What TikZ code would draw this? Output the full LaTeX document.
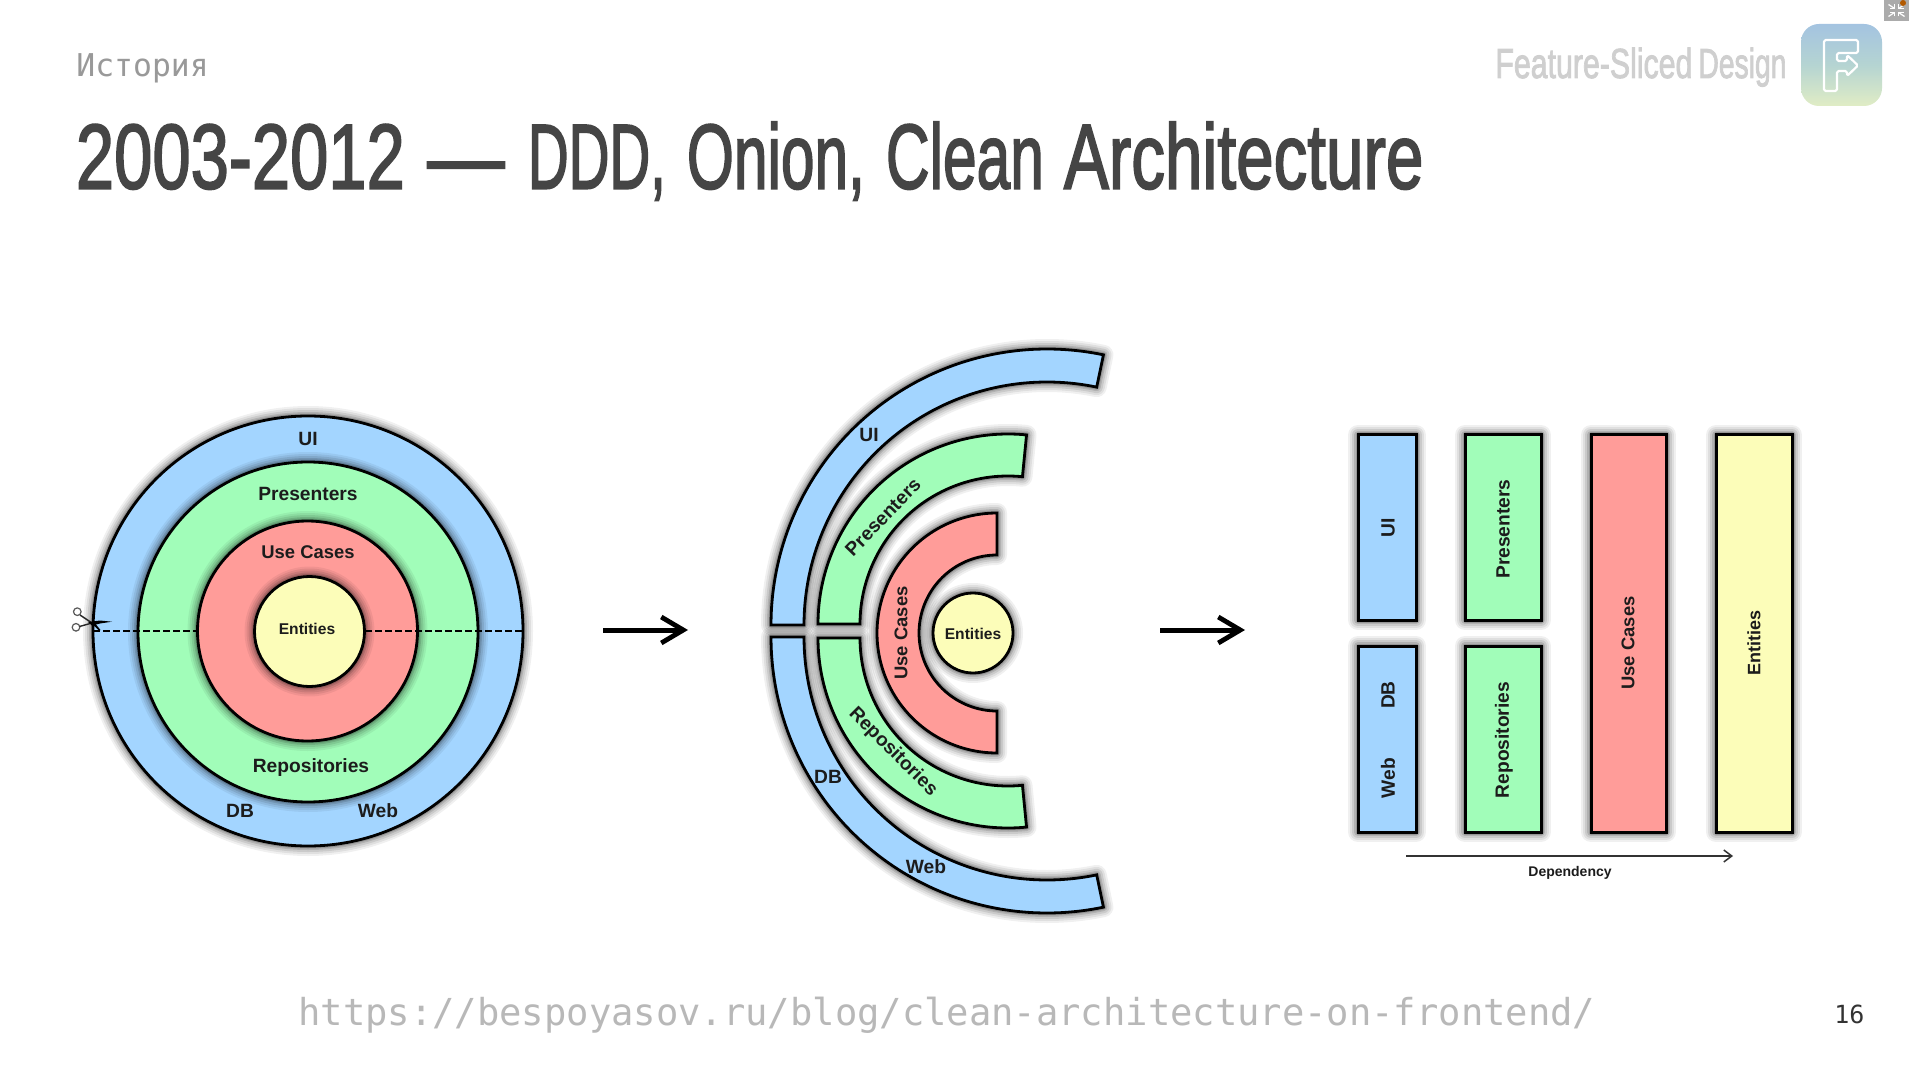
\documentclass[tikz,border=0pt]{standalone}
\usepackage{fontspec}
\usepackage{graphicx}
\usetikzlibrary{arrows.meta}
\setmainfont{Liberation Sans}
\newfontfamily\monof{DejaVu Sans Mono}
\newfontfamily\titlef[FakeBold=2.2]{Liberation Sans}
\definecolor{cblue}{HTML}{A3D5FF}
\definecolor{cgreen}{HTML}{A1FDB9}
\definecolor{cred}{HTML}{FF9C99}
\definecolor{cyel}{HTML}{FCFDB9}
\definecolor{ctext}{HTML}{1C1C1C}
\definecolor{logoA}{HTML}{9BBBE8}
\definecolor{logoB}{HTML}{B5D4D2}
\definecolor{logoC}{HTML}{F6F9BE}
\tikzset{
  lbl/.style={font=\bfseries\fontsize{9.6}{12}\selectfont,text=ctext,inner sep=0pt,outer sep=0pt},
  lblusecases/.style={lbl,font=\bfseries\fontsize{9.2}{12}\selectfont},
  lblsmall/.style={lbl,font=\bfseries\fontsize{7.8}{10}\selectfont},
  ringc/.style={circle,draw=black,line width=1.4pt,inner sep=0pt,outer sep=0pt},
  band/.style={draw=black,line width=1.4pt,line join=miter},
  bigarrow/.style={line width=2.5pt,black,-{Straight Barb[length=11pt,width=13pt,line width=2.4pt]}},
  deparrow/.style={line width=.75pt,black!80,-{Straight Barb[length=4pt,width=6pt,line width=.75pt]}},
  cutline/.style={line width=1.25pt,black,dash pattern=on 3.3pt off 1.7pt},
}
% soft dark halo below a shape
\newcommand{\halo}[1]{\foreach \hw/\ho in {10/.06,8/.07,6/.09,4/.12,2.5/.15}{\draw[line width=\hw pt,black,opacity=\ho,line join=round] #1;}}
\newcommand{\bandp}[6]{plot[domain=#5:#6,samples=70,smooth] ({#1+#3*cos(\x)},{#2-#3*sin(\x)}) -- plot[domain=#6:#5,samples=70,smooth] ({#1+#4*cos(\x)},{#2-#4*sin(\x)}) -- cycle}
% band: cx cy R r a b colour
\newcommand{\bandshape}[7]{\halo{\bandp{#1}{#2}{#3}{#4}{#5}{#6}}\filldraw[band,fill=#7] \bandp{#1}{#2}{#3}{#4}{#5}{#6};}
% disc: name x y R colour
\newcommand{\disc}[5]{\halo{(#2,#3) circle[radius=#4*0.5pt]}\node[ringc,fill=#5,minimum size=#4*1pt] (#1) at (#2,#3) {};}
% box: name x1 y1 x2 y2 colour
\newcommand{\boxs}[6]{\halo{(#2,#3) rectangle (#4,#5)}\filldraw[draw=black,line width=1.5pt,fill=#6] (#2,#3) rectangle (#4,#5);\coordinate (#1) at ({(#2+#4)/2},{(#3+#5)/2});}
% one word squeezed to a given width
\newcommand{\tw}[2]{\resizebox{#1pt}{\height}{#2}}
\begin{document}
\begin{tikzpicture}[x=0.5pt,y=-0.5pt]
\useasboundingbox (0,0) rectangle (1909,1074);
\fill[white] (0,0) rectangle (1909,1074);

% header
\node[anchor=base west,inner sep=0pt,text=black!40,font=\monof\fontsize{15.7}{18}\selectfont] (hist) at (76,77) {История};
\node[anchor=base west,inner sep=0pt,text=black!73,font=\titlef\fontsize{46}{50}\selectfont] (title) at (75.5,188.5) {\tw{164.5}{2003-2012}\hspace*{11.25pt}\tw{38.5}{—}\hspace*{11.75pt}\tw{69}{DDD,}\hspace*{10.5pt}\tw{89}{Onion,}\hspace*{10.5pt}\tw{79}{Clean}\hspace*{10pt}\tw{179.75}{Architecture}};
\node[anchor=base west,inner sep=0pt,text=black!19,font=\titlef\fontsize{21}{24}\selectfont] (fsd) at (1495,78) {\tw{98.5}{Feature-Sliced}\hspace*{3pt}\tw{44}{Design}};

% logo
\begin{scope}
\clip[rounded corners=9pt] (1801,24) rectangle (1882,106);
\shade[shading=axis,shading angle=-135,top color=logoA,bottom color=logoC,middle color=logoB] (1780,3) rectangle (1903,127);
\end{scope}
\draw[white,line width=1.1pt,line join=round,rounded corners=.8pt]
  (1824,40) -- (1858,40) -- (1858,53) -- (1837,53) -- (1837,61) -- (1847,61) -- (1847,55) -- (1858,65.5) -- (1847,76) -- (1847,71) -- (1837,71) -- (1837,91) -- (1824,91) -- cycle;

% corner badge
\fill[black!33] (1884,0) rectangle (1909,21);
\foreach \sx/\sy in {-1/-1,1/-1,-1/1,1/1}{
  \draw[white,line width=.6pt] ({1896.5+\sx*8},{10.5+\sy*6}) -- ({1896.5+\sx*2},{10.5+\sy*2});
  \draw[white,line width=.6pt] ({1896.5+\sx*2},{10.5+\sy*6}) -- ({1896.5+\sx*2},{10.5+\sy*2}) -- ({1896.5+\sx*7},{10.5+\sy*2});
}
\fill[orange!70!black] (1903,3) circle[radius=1.5pt];

% left: onion
\disc{oUI}{308}{631}{215}{cblue}
\disc{oPres}{308}{632}{170}{cgreen}
\disc{oUse}{307.5}{631}{110}{cred}
\disc{oEnt}{309.5}{631.5}{55}{cyel}
\coordinate (cutA) at (93,631);
\coordinate (cutB) at (197,631);
\coordinate (cutC) at (365,631);
\coordinate (cutD) at (523,631);
\draw[cutline] (cutA) -- (cutB);
\draw[cutline] (cutC) -- (cutD);
\node[lbl] (oUIl) at (308,439) {UI};
\node[lbl] (oPresl) at (308,494) {Presenters};
\node[lblusecases] (oUsel) at (308,552) {Use Cases};
\node[lblsmall] (oEntl) at (307,629) {Entities};
\node[lbl] (oRepl) at (311,768) {Repositories};
\node[lbl] (oDBl) at (240,811) {DB};
\node[lbl] (oWebl) at (378,811) {Web};

% scissors
\draw[black!65,line width=.6pt] (77.3,611.7) circle[radius=1.9pt];
\draw[black!65,line width=.6pt] (76,627.3) circle[radius=1.9pt];
\draw[black!85,line width=.7pt] (80,615) -- (92,623);
\draw[black!85,line width=.7pt] (79.5,626.5) -- (92,623);
\fill[black] (88,622) -- (100,620.5) -- (112,621.7) -- (100,623.5) -- (92,625.5) -- cycle;
\fill[black] (90,622) -- (94,622) -- (100.5,630) -- (99,630.5) -- cycle;

% arrows
\coordinate (a1s) at (603,630);
\coordinate (a1e) at (688,630);
\draw[bigarrow] (a1s) -- (a1e);
\coordinate (a2s) at (1160,630);
\coordinate (a2e) at (1245,630);
\draw[bigarrow] (a2s) -- (a2e);

% middle: unrolled
\bandshape{1047}{625}{276}{243}{180}{78.2}{cblue}
\bandshape{1047}{637}{276}{243}{180}{281.8}{cblue}
\bandshape{1008}{624}{190}{148}{180}{84.4}{cgreen}
\bandshape{1008}{638}{190}{148}{180}{275.6}{cgreen}
\bandshape{997}{633}{120}{78}{90}{270}{cred}
\disc{mEnt}{973}{633}{40}{cyel}
\node[lblsmall] (mEntl) at (973,633.5) {Entities};
\node[lbl] (mUI) at (869,435) {UI};
\node[lbl,rotate=46] (mPres) at (883,517) {Presenters};
\node[lblusecases,rotate=90] (mUse) at (901,633) {Use Cases};
\node[lbl,rotate=-45] (mRep) at (893,752) {Repositories};
\node[lbl] (mDB) at (828,777) {DB};
\node[lbl] (mWeb) at (926,867) {Web};

% right: columns
\boxs{rUI}{1358}{435}{1416}{620}{cblue}
\boxs{rDB}{1358}{646}{1416}{832}{cblue}
\boxs{rPres}{1465}{435}{1541}{620}{cgreen}
\boxs{rRep}{1465}{646}{1541}{832}{cgreen}
\boxs{rUse}{1591}{435}{1666}{832}{cred}
\boxs{rEnt}{1716}{435}{1792}{832}{cyel}
\node[lbl,rotate=90] (rUIl) at (1388,528) {UI};
\node[lbl,rotate=90] (rPresl) at (1503,529) {Presenters};
\node[lbl,rotate=90] (rDBl) at (1388,695) {DB};
\node[lbl,rotate=90] (rWebl) at (1388,778) {Web};
\node[lbl,rotate=90] (rRepl) at (1504,740) {Repositories};
\node[lblusecases,rotate=90] (rUsel) at (1628,643) {Use Cases};
\node[lbl,font=\bfseries\fontsize{9}{11}\selectfont,rotate=90] (rEntl) at (1754,643) {Entities};
\coordinate (depS) at (1406,856);
\coordinate (depE) at (1733,856);
\draw[deparrow] (depS) -- (depE);
\node[lbl,font=\bfseries\fontsize{7}{9}\selectfont] (depl) at (1570,873) {Dependency};

% footer
\node[anchor=base west,inner sep=0pt,text=black!28,font=\monof\fontsize{18.57}{22}\selectfont] (url) at (298,1025) {https://bespoyasov.ru/blog/clean-architecture-on-frontend/};
\node[anchor=base west,inner sep=0pt,text=black!80,font=\monof\fontsize{12.5}{15}\selectfont] (pg) at (1834,1023) {16};
\end{tikzpicture}
\end{document}
